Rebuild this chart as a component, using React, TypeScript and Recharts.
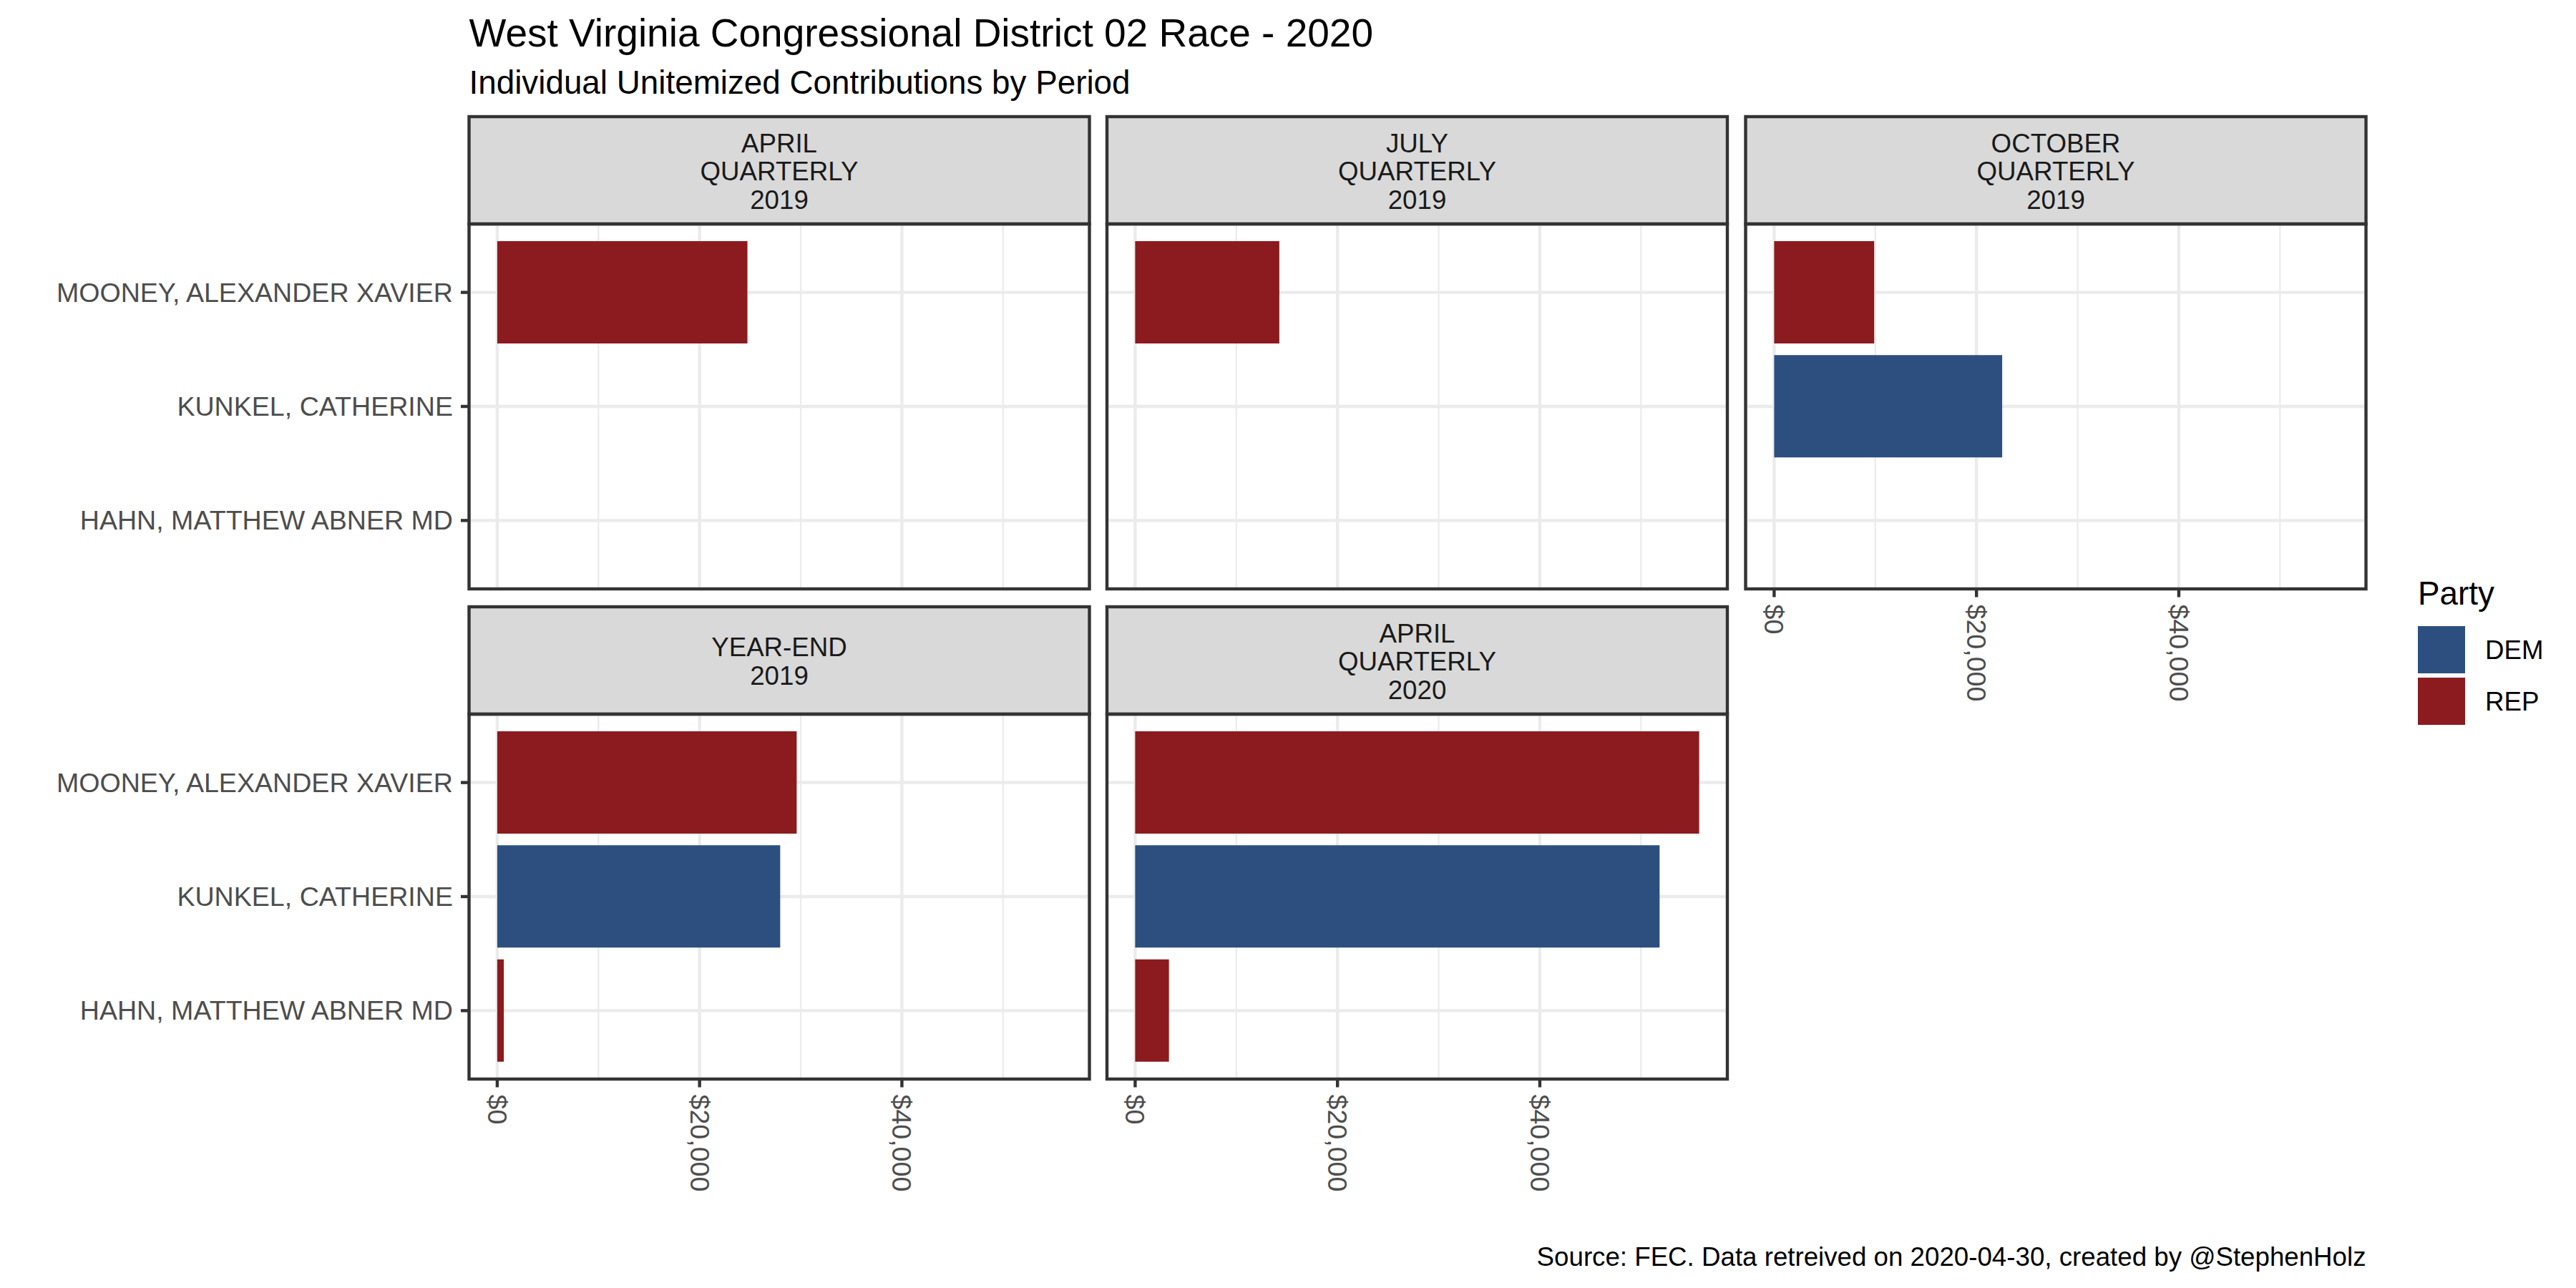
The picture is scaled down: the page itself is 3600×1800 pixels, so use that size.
import React from 'react';
import { BarChart, Bar, XAxis, YAxis, CartesianGrid, Cell } from 'recharts';

// ---- data ----
const candidates = ['MOONEY, ALEXANDER XAVIER', 'KUNKEL, CATHERINE', 'HAHN, MATTHEW ABNER MD'];
const candidateParty = ['REP', 'DEM', 'REP'];
const periodLabels = [
  ['APRIL', 'QUARTERLY', '2019'],
  ['JULY', 'QUARTERLY', '2019'],
  ['OCTOBER', 'QUARTERLY', '2019'],
  ['YEAR-END', '2019'],
  ['APRIL', 'QUARTERLY', '2020'],
];
const aprilQuarterly2019 = [24730, null, null];
const julyQuarterly2019 = [14250, null, null];
const octoberQuarterly2019 = [9890, 22540, null];
const yearEnd2019 = [29600, 27970, 650];
const aprilQuarterly2020 = [55750, 51840, 3340];
const majorTicks = [0, 20000, 40000];
const minorTicks = [10000, 30000, 50000];
const partyNames = ['DEM', 'REP'];
const partyColors: Record<string, string> = { DEM: '#2D4F80', REP: '#8B1B1E' };

const titleText = 'West Virginia Congressional District 02 Race - 2020';
const subtitleText = 'Individual Unitemized Contributions by Period';
const captionText = 'Source: FEC. Data retreived on 2020-04-30, created by @StephenHolz';
const legendTitle = 'Party';

// ---- layout ----
const FONT = "'Liberation Sans', Arial, Helvetica, sans-serif";
const AXIS_FS = 37.6;
const PANEL_W = 867;
const PLOT_H = 510;
const STRIP_H = 150;
const COL_LEFT = [655.5, 1547, 2439.5];
const ROW_STRIP_TOP = [163, 848];
const X_AXIS_H = 230;
const LINE = 4.4;
const BORDER = '#333333';

const allValues = [
  ...aprilQuarterly2019, ...julyQuarterly2019, ...octoberQuarterly2019, ...yearEnd2019, ...aprilQuarterly2020,
].filter((v) => v != null) as number[];
const maxV = Math.max(...allValues);
const domain: [number, number] = [-0.05 * maxV, 1.05 * maxV];

const panels = [
  { values: aprilQuarterly2019, label: periodLabels[0], col: 0, row: 0, showY: true, showX: false },
  { values: julyQuarterly2019, label: periodLabels[1], col: 1, row: 0, showY: false, showX: false },
  { values: octoberQuarterly2019, label: periodLabels[2], col: 2, row: 0, showY: false, showX: true },
  { values: yearEnd2019, label: periodLabels[3], col: 0, row: 1, showY: true, showX: true },
  { values: aprilQuarterly2020, label: periodLabels[4], col: 1, row: 1, showY: false, showX: true },
];

const fmtDollar = (v: number) => '$' + v.toLocaleString('en-US');

const XTick = (props: any) => {
  const { x, y, payload } = props;
  return (
    <text
      x={x}
      y={y}
      transform={`rotate(90 ${x} ${y})`}
      textAnchor="start"
      dominantBaseline="central"
      fill="#4D4D4D"
      fontSize={AXIS_FS}
      fontFamily={FONT}
    >
      {fmtDollar(payload.value)}
    </text>
  );
};

const YTick = (props: any) => {
  const { x, y, payload } = props;
  return (
    <text x={x} y={y} textAnchor="end" dominantBaseline="central" fill="#4D4D4D" fontSize={AXIS_FS} fontFamily={FONT}>
      {payload.value}
    </text>
  );
};

function Panel({ p }: { p: (typeof panels)[number] }) {
  const data = candidates.map((name, i) => ({ name, value: p.values[i], party: candidateParty[i] }));
  const plotTop = ROW_STRIP_TOP[p.row] + STRIP_H;
  const yW = p.showY ? COL_LEFT[0] : 0;
  const left = COL_LEFT[p.col] - yW;
  const pad = (PLOT_H / 3.2) * 0.1;
  return (
    <div style={{ position: 'absolute', left, top: plotTop }}>
      <BarChart
        width={yW + PANEL_W}
        height={PLOT_H + (p.showX ? X_AXIS_H : 0)}
        data={data}
        layout="vertical"
        margin={{ top: 0, right: 0, bottom: 0, left: 0 }}
        barCategoryGap="5%"
      >
        <CartesianGrid xAxisId="minor" horizontal={false} stroke="#EBEBEB" strokeWidth={2.2} />
        <CartesianGrid xAxisId="major" stroke="#EBEBEB" strokeWidth={LINE} />
        <XAxis xAxisId="minor" type="number" domain={domain} ticks={minorTicks} hide allowDataOverflow />
        <XAxis
          xAxisId="major"
          type="number"
          domain={domain}
          ticks={majorTicks}
          allowDataOverflow
          interval={0}
          hide={!p.showX}
          height={p.showX ? X_AXIS_H : 0}
          axisLine={false}
          tickSize={11.5}
          tickMargin={10}
          tickLine={{ stroke: BORDER, strokeWidth: LINE }}
          tick={<XTick />}
        />
        <YAxis
          type="category"
          dataKey="name"
          hide={!p.showY}
          width={yW}
          padding={{ top: pad, bottom: pad }}
          axisLine={false}
          tickSize={11.5}
          tickMargin={11}
          tickLine={{ stroke: BORDER, strokeWidth: LINE }}
          tick={<YTick />}
          interval={0}
        />
        <Bar xAxisId="major" dataKey="value" isAnimationActive={false}>
          {data.map((d, i) => (
            <Cell key={i} fill={partyColors[d.party]} />
          ))}
        </Bar>
      </BarChart>
    </div>
  );
}

export default function App() {
  return (
    <div style={{ position: 'relative', width: 3600, height: 1800, background: '#fff', fontFamily: FONT }}>
      <style>{'body{margin:0;}'}</style>
      {panels.map((p, i) => (
        <Panel key={i} p={p} />
      ))}
      <svg width={3600} height={1800} style={{ position: 'absolute', left: 0, top: 0, pointerEvents: 'none' }}>
        <text x={COL_LEFT[0]} y={65} fontSize={55} fontFamily={FONT} fill="#000">
          {titleText}
        </text>
        <text x={COL_LEFT[0]} y={131} fontSize={45.8} fontFamily={FONT} fill="#000">
          {subtitleText}
        </text>
        {panels.map((p, i) => {
          const x = COL_LEFT[p.col];
          const st = ROW_STRIP_TOP[p.row];
          const mid = st + STRIP_H / 2;
          const n = p.label.length;
          return (
            <g key={i}>
              <rect x={x} y={st} width={PANEL_W} height={STRIP_H} fill="#D9D9D9" stroke={BORDER} strokeWidth={LINE} />
              {p.label.map((t, j) => (
                <text
                  key={j}
                  x={x + PANEL_W / 2}
                  y={mid + (j - (n - 1) / 2) * 39.5 + 14}
                  textAnchor="middle"
                  fontSize={36.7}
                  fontFamily={FONT}
                  fill="#1A1A1A"
                >
                  {t}
                </text>
              ))}
              <rect x={x} y={st + STRIP_H} width={PANEL_W} height={PLOT_H} fill="none" stroke={BORDER} strokeWidth={LINE} />
            </g>
          );
        })}
        <text x={3379} y={845} fontSize={45.8} fontFamily={FONT} fill="#000">
          {legendTitle}
        </text>
        {partyNames.map((pn, i) => (
          <g key={pn}>
            <rect x={3379} y={875 + i * 72} width={66} height={66} fill={partyColors[pn]} />
            <text x={3473} y={875 + i * 72 + 33} dominantBaseline="central" fontSize={36.7} fontFamily={FONT} fill="#000">
              {pn}
            </text>
          </g>
        ))}
        <text x={COL_LEFT[2] + PANEL_W} y={1769} textAnchor="end" fontSize={36.7} fontFamily={FONT} fill="#000">
          {captionText}
        </text>
      </svg>
    </div>
  );
}
